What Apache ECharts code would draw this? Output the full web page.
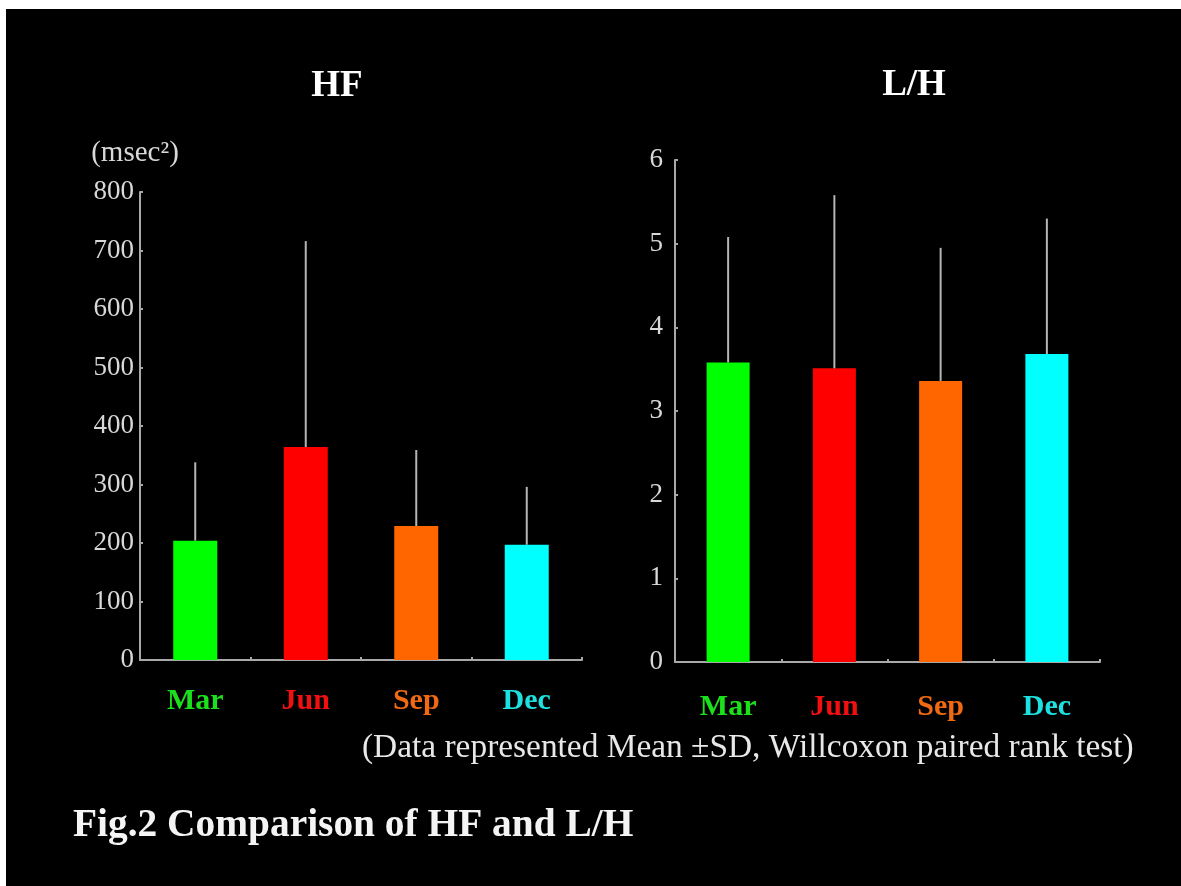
<!DOCTYPE html>
<html>
<head>
<meta charset="utf-8">
<script src="https://cdn.jsdelivr.net/npm/echarts@6/dist/echarts.min.js"></script>
<style>
  html, body { margin: 0; padding: 0; background: #000; }
  #chart { width: 1181px; height: 886px; }
</style>
</head>
<body>
<div id="chart"></div>
<script>
// Seasonal HRV comparison: HF power and LF/HF ratio, mean ± SD
const months = ['Mar', 'Jun', 'Sep', 'Dec'];
const barColors = ['#00ff00', '#ff0000', '#ff6600', '#00ffff'];
const labelColors = ['#1be01b', '#f01010', '#f06a14', '#1ee0e0'];

const hfMean = [204, 364, 229, 197];
const hfSd = [134, 352, 130, 99];
const hfAxis = { min: 0, max: 800, interval: 100 };

const lhMean = [3.58, 3.51, 3.36, 3.68];
const lhSd = [1.50, 2.07, 1.59, 1.62];
const lhAxis = { min: 0, max: 6, interval: 1 };

const serif = '"Liberation Serif", "Times New Roman", serif';
const axisGrey = '#a8a8a8';
const tickText = '#d8d8d8';

const rich = {};
months.forEach((m, i) => {
  rich['c' + i] = { color: labelColors[i], fontFamily: serif, fontWeight: 'bold', fontSize: 30 };
});

function xAxisFor(gridIndex, margin) {
  return {
    type: 'category', gridIndex, data: months,
    axisLine: { lineStyle: { color: axisGrey, width: 2 } },
    axisTick: { show: true, inside: true, length: 3, lineStyle: { color: axisGrey, width: 2 } },
    axisLabel: {
      margin,
      formatter: (v, i) => '{c' + i + '|' + v + '}',
      rich
    },
    splitLine: { show: false }
  };
}

function yAxisFor(gridIndex, range, margin, extra) {
  return Object.assign({
    type: 'value', gridIndex,
    min: range.min, max: range.max, interval: range.interval,
    axisLine: { show: true, lineStyle: { color: axisGrey, width: 2 } },
    axisTick: { show: true, inside: true, length: 3, lineStyle: { color: axisGrey, width: 2 } },
    axisLabel: { margin, color: tickText, fontFamily: serif, fontSize: 27 },
    splitLine: { show: false }
  }, extra || {});
}

function errorRender(params, api) {
  const x = api.value(0);
  const base = api.coord([x, api.value(1)]);
  const top = api.coord([x, api.value(1) + api.value(2)]);
  return {
    type: 'line',
    shape: { x1: base[0], y1: base[1], x2: top[0], y2: top[1] },
    style: { stroke: '#b4b4b4', lineWidth: 2 }
  };
}

function barSeries(idx, mean, width) {
  return {
    type: 'bar', xAxisIndex: idx, yAxisIndex: idx, barWidth: width,
    data: mean.map((v, i) => ({ value: v, itemStyle: { color: barColors[i] } })),
    silent: true
  };
}

function errSeries(idx, mean, sd) {
  return {
    type: 'custom', xAxisIndex: idx, yAxisIndex: idx,
    renderItem: errorRender,
    data: mean.map((v, i) => [i, v, sd[i]]),
    z: 5, silent: true
  };
}

const chart = echarts.init(document.getElementById('chart'));
chart.setOption({
  backgroundColor: '#000',
  animation: false,
  title: [
    { text: 'HF', left: 332, top: 63, textAlign: 'center',
      textStyle: { color: '#fff', fontFamily: serif, fontWeight: 'bold', fontSize: 37 } },
    { text: 'L/H', left: 909, top: 62, textAlign: 'center',
      textStyle: { color: '#fff', fontFamily: serif, fontWeight: 'bold', fontSize: 37 } }
  ],
  grid: [
    { left: 140, top: 192, width: 442, height: 468 },
    { left: 675, top: 160, width: 425, height: 502 }
  ],
  xAxis: [xAxisFor(0, 26), xAxisFor(1, 30)],
  yAxis: [
    yAxisFor(0, hfAxis, 6, {
      name: '(msec²)', nameLocation: 'end', nameGap: 24,
      nameTextStyle: { color: tickText, fontFamily: serif, fontSize: 29, align: 'center', padding: [0, 10, 0, 0] }
    }),
    yAxisFor(1, lhAxis, 12)
  ],
  series: [
    barSeries(0, hfMean, 44),
    errSeries(0, hfMean, hfSd),
    barSeries(1, lhMean, 43),
    errSeries(1, lhMean, lhSd)
  ],
  graphic: [
    { type: 'rect', left: 0, top: 0, shape: { width: 1181, height: 9 }, style: { fill: '#fff' }, silent: true },
    { type: 'rect', left: 0, top: 0, shape: { width: 6, height: 886 }, style: { fill: '#fff' }, silent: true },
    { type: 'text', left: 362, top: 732,
      style: { text: '(Data represented Mean ±SD, Willcoxon paired rank test)',
        fill: '#e8e8e8', font: '33.4px ' + serif } },
    { type: 'text', left: 73, top: 806,
      style: { text: 'Fig.2 Comparison of HF and L/H',
        fill: '#f4f4f4', font: 'bold 39.4px ' + serif } }
  ]
});
</script>
</body>
</html>
